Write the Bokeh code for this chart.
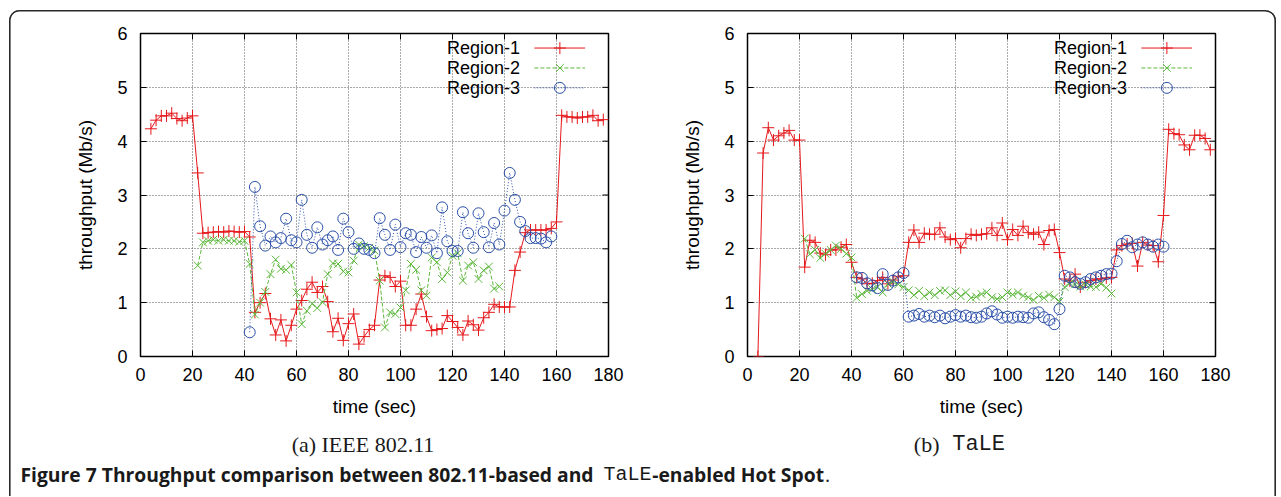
from bokeh.plotting import figure
from bokeh.models import ColumnDataSource, Range1d, FixedTicker
from bokeh.layouts import row, column
from bokeh.core.properties import value
from bokeh.embed import file_html
from bokeh.resources import INLINE

# axes / legend
x_ticks = [0, 20, 40, 60, 80, 100, 120, 140, 160, 180]
y_ticks = [0, 1, 2, 3, 4, 5, 6]
series_names = ["Region-1", "Region-2", "Region-3"]

# (a) IEEE 802.11  -- throughput in Mb/s, one sample every 2 s
a_time_r1 = list(range(4, 180, 2))
a_region1 = [4.23, 4.39, 4.47, 4.47, 4.52, 4.42, 4.38, 4.43, 4.47,
             3.41, 2.29, 2.30, 2.31, 2.32, 2.31, 2.33, 2.32, 2.31, 2.32,
             2.22, 0.82, 1.00, 1.17, 0.70, 0.40, 0.68, 0.29, 0.58, 0.88,
             1.04, 1.25, 1.38, 1.19, 1.30, 1.02, 0.46, 0.71, 0.30, 0.61,
             0.79, 0.23, 0.37, 0.50, 0.58, 1.42, 1.50, 1.47, 1.30, 1.40,
             0.58, 0.58, 0.88, 1.16, 0.74, 0.48, 0.50, 0.52, 0.76, 0.65,
             0.54, 0.40, 0.66, 0.59, 0.49, 0.72, 0.82, 0.97, 0.92, 0.92,
             0.92, 1.60, 1.94, 2.30, 2.35, 2.35, 2.35, 2.35, 2.38, 2.50,
             4.48, 4.45, 4.45, 4.43, 4.45, 4.45, 4.48, 4.38, 4.40]
a_time_r2 = list(range(22, 140, 2))
a_region2 = [1.69,
             2.12, 2.15, 2.17, 2.15, 2.17, 2.15, 2.15, 2.13, 2.15,
             1.72, 0.78, 1.00, 1.20, 1.53, 1.80, 1.63, 1.61, 1.70, 1.19,
             0.60, 0.85, 0.98, 0.90, 1.01, 1.53, 1.73, 1.72, 1.58, 1.56,
             1.78, 2.08, 2.05, 2.02, 1.97, 1.41, 0.54, 0.82, 0.79, 0.91,
             1.23, 1.72, 1.61, 1.23, 1.13, 1.84, 1.75, 1.44, 1.56, 1.87,
             1.92, 1.41, 1.69, 1.75, 1.44, 1.60, 1.67, 1.26, 1.30]
a_time_r3 = list(range(42, 160, 2))
a_region3 = [0.45, 3.15, 2.42, 2.06, 2.23, 2.12, 2.20, 2.56, 2.16, 2.12,
             2.91, 2.26, 2.02, 2.40, 2.08, 2.16, 2.23, 1.98, 2.56, 2.31,
             2.00, 2.10, 2.00, 1.98, 1.92, 2.57, 2.26, 1.98, 2.45, 2.03,
             2.29, 2.26, 1.94, 2.22, 2.02, 2.25, 1.92, 2.77, 2.14, 1.96,
             1.96, 2.68, 2.29, 2.02, 2.66, 2.31, 2.03, 2.48, 2.08, 2.71,
             3.41, 2.91, 2.50, 2.33, 2.20, 2.20, 2.19, 2.12, 2.23]

# (b) TaLE
b_time_r1 = list(range(4, 180, 2))
b_region1 = [0.00, 3.78, 4.25, 4.02, 4.10, 4.15, 4.20, 4.02, 4.02,
             1.66, 2.16, 2.12, 1.92, 1.89, 1.98, 1.98, 2.03, 2.08, 1.75,
             1.47, 1.44, 1.35, 1.36, 1.41, 1.47, 1.35, 1.42, 1.48, 1.50,
             2.12, 2.35, 2.12, 2.29, 2.27, 2.27, 2.39, 2.22, 2.17, 2.19,
             2.02, 2.19, 2.27, 2.25, 2.27, 2.28, 2.39, 2.25, 2.48, 2.17,
             2.36, 2.25, 2.42, 2.30, 2.27, 2.31, 2.08, 2.34, 2.36, 1.93,
             1.44, 1.40, 1.53, 1.29, 1.38, 1.41, 1.44, 1.44, 1.46, 1.47,
             1.98, 2.06, 2.09, 2.10, 1.68, 2.12, 2.07, 2.06, 1.76, 2.62,
             4.22, 4.14, 4.12, 3.93, 3.84, 4.11, 4.11, 4.05, 3.84]
b_time_r2 = list(range(22, 142, 2))
b_region2 = [2.19, 1.90, 1.98, 1.83, 1.91, 1.98, 2.06, 2.00, 1.91, 1.84,
             1.09, 1.16, 1.22, 1.25, 1.29, 1.19, 1.35, 1.39, 1.34, 1.29,
             1.23, 1.14, 1.22, 1.12, 1.19, 1.14, 1.22, 1.23, 1.14, 1.21,
             1.12, 1.19, 1.09, 1.11, 1.16, 1.19, 1.10, 1.07, 1.10, 1.19,
             1.15, 1.19, 1.13, 1.10, 1.05, 1.13, 1.09, 1.15, 1.10, 1.02,
             1.29, 1.36, 1.34, 1.30, 1.34, 1.30, 1.29, 1.35, 1.28, 1.17]
b_time_r3 = list(range(42, 162, 2))
b_region3 = [1.47, 1.46, 1.36, 1.32, 1.27, 1.53, 1.33, 1.41, 1.47, 1.55,
             0.74, 0.76, 0.79, 0.74, 0.76, 0.73, 0.76, 0.71, 0.74, 0.77,
             0.74, 0.76, 0.73, 0.72, 0.74, 0.80, 0.84, 0.78, 0.72, 0.74,
             0.72, 0.74, 0.73, 0.72, 0.80, 0.82, 0.73, 0.68, 0.60, 0.88,
             1.50, 1.47, 1.38, 1.35, 1.38, 1.44, 1.47, 1.50, 1.53, 1.54,
             1.77, 2.09, 2.15, 2.03, 2.08, 2.12, 2.08, 2.04, 2.08, 2.04]

STYLES = [
    dict(color="#e5191c", dash="solid", marker="cross", size=12),
    dict(color="#5cb83c", dash="4 2", marker="x", size=11),
    dict(color="#2b50a8", dash="1 2", marker="circle", size=11),
]

H_CHART = 420
H_CAP = 66
FRAME_W, FRAME_H = 468, 323
TOP = 23
TICK = 6
SANS = "Liberation Sans"
SERIF = "Liberation Serif"
MONO = "Liberation Mono"
CAP = "Open Sans"


def make_chart(width, frame_left, series):
    p = figure(width=width, height=H_CHART, x_range=Range1d(0, 180), y_range=Range1d(0, 6),
               output_backend="svg", toolbar_location=None,
               min_border_left=frame_left, min_border_right=width - frame_left - FRAME_W,
               min_border_top=TOP, min_border_bottom=H_CHART - TOP - FRAME_H,
               x_axis_label="time (sec)", y_axis_label="throughput (Mb/s)")
    p.border_fill_color = None
    p.outline_line_color = "black"
    p.outline_line_width = 1.5

    p.xaxis.ticker = FixedTicker(ticks=x_ticks)
    p.yaxis.ticker = FixedTicker(ticks=y_ticks)
    for ax in (p.xaxis[0], p.yaxis[0]):
        ax.major_tick_in = TICK
        ax.major_tick_out = 0
        ax.minor_tick_line_color = None
        ax.axis_line_color = None
        ax.major_label_text_font = SANS
        ax.major_label_text_font_size = "18px"
        ax.major_label_text_color = "black"
        ax.axis_label_text_font = SANS
        ax.axis_label_text_font_size = "19px"
        ax.axis_label_text_font_style = "normal"
        ax.axis_label_text_color = "black"
    p.xaxis.major_label_standoff = 11
    p.xaxis.axis_label_standoff = 12
    p.yaxis.major_label_standoff = 13
    p.yaxis.axis_label_standoff = 18

    p.xgrid.ticker = FixedTicker(ticks=x_ticks)
    p.ygrid.ticker = FixedTicker(ticks=y_ticks)
    p.grid.grid_line_color = "#555555"
    p.grid.grid_line_dash = "1 2"
    p.grid.grid_line_width = 1

    # mirrored tick marks on the top and right edges of the frame
    dy = TICK * 6 / FRAME_H
    dx = TICK * 180 / FRAME_W
    p.segment(x0=x_ticks, y0=[6 - dy] * len(x_ticks), x1=x_ticks, y1=[6] * len(x_ticks),
              line_color="black", line_width=1)
    p.segment(x0=[180 - dx] * len(y_ticks), y0=y_ticks, x1=[180] * len(y_ticks), y1=y_ticks,
              line_color="black", line_width=1)

    for (t, v), st in zip(series, STYLES):
        src = ColumnDataSource(data=dict(t=t, v=v))
        p.line("t", "v", source=src, line_color=st["color"], line_width=1, line_dash=st["dash"])
        p.scatter("t", "v", source=src, marker=st["marker"], size=st["size"],
                  line_color=st["color"], fill_color=None, line_width=1)

    # gnuplot style key: text right-aligned, sample to the right
    leg_y = [5.73, 5.36, 4.99]
    p.text(x=[146] * 3, y=leg_y, text=series_names, text_align="right",
           text_baseline="middle", text_font=value(SANS), text_font_size="18px",
           text_color="black")
    for yy, st in zip(leg_y, STYLES):
        p.segment(x0=[151.5], y0=[yy], x1=[171], y1=[yy], line_color=st["color"],
                  line_width=1, line_dash=st["dash"])
        p.scatter(x=[161.3], y=[yy], marker=st["marker"], size=st["size"],
                  line_color=st["color"], fill_color=None, line_width=1)
    return p


W1, W2 = 642, 625
left = make_chart(W1, 131,
                  [(a_time_r1, a_region1), (a_time_r2, a_region2), (a_time_r3, a_region3)])
right = make_chart(W2, 96,
                   [(b_time_r1, b_region1), (b_time_r2, b_region2), (b_time_r3, b_region3)])

# captions: a blank canvas in pixel units (y grows downwards)
W = W1 + W2
cap = figure(width=W, height=H_CAP, x_range=Range1d(0, W), y_range=Range1d(H_CAP, 0),
             output_backend="svg", toolbar_location=None, min_border=0,
             x_axis_location=None, y_axis_location=None)
cap.grid.visible = False
cap.outline_line_color = None
cap.background_fill_color = None
cap.border_fill_color = None


def cap_text(txt, x, y, font, size, style="normal", align="left"):
    cap.text(x=[x], y=[y], text=[txt], text_font=value(font), text_font_size=size,
             text_font_style=style, text_align=align, text_baseline="alphabetic",
             text_color="#1a1a1a")


cap_text("(a) IEEE 802.11", 353.5, 14, SERIF, "22px", align="center")
cap_text("(b)", 904.3, 14, SERIF, "22px")
cap_text("TaLE", 942.7, 14, MONO, "22px")
cap_text("Figure 7 Throughput comparison between 802.11-based and", 11, 44, CAP, "19.3px",
         style="bold")
cap_text("TaLE", 594, 44, MONO, "20px")
cap_text("-enabled Hot Spot", 642.7, 44, CAP, "19.3px", style="bold")
cap_text(".", 815.5, 44, CAP, "19.3px")

# rounded frame (left, top, right) around the whole figure
shadow = ("inset 1.6px 0 0 0 #2a2a2a, inset -1.6px 0 0 0 #2a2a2a, "
          "inset 0 1.6px 0 0 #2a2a2a")
layout = column(row(left, right), cap,
                styles={"box-shadow": shadow, "border-radius": "11px 11px 0 0",
                        "margin": "10px 0 0 9px"})
open("out.html", "w").write(file_html(layout, INLINE))
